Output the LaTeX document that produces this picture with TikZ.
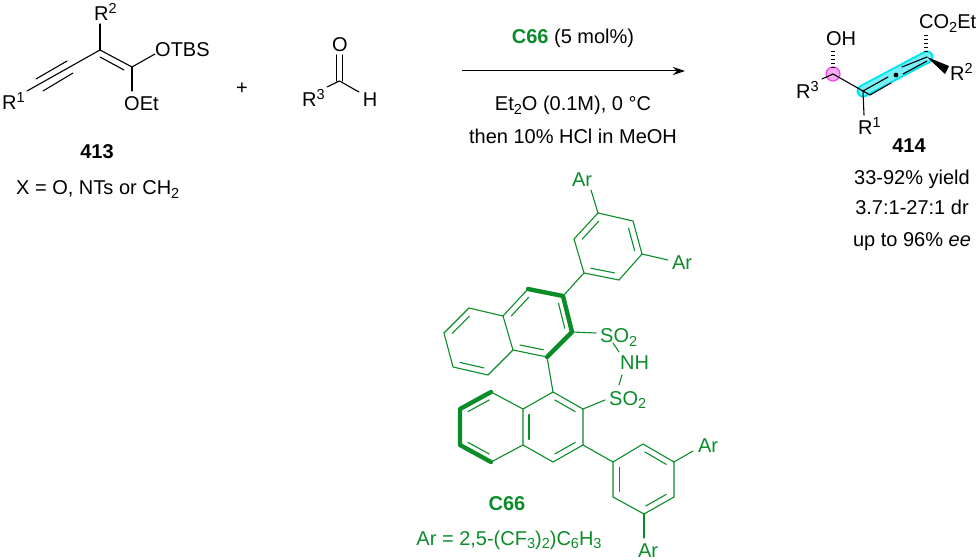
\documentclass[tikz,border=0pt]{standalone}
\usepackage{fontspec}
\setmainfont{Liberation Sans}
\usetikzlibrary{calc,arrows.meta}
\definecolor{catgreen}{RGB}{10,140,40}
\definecolor{hlcyan}{RGB}{0,228,240}
\definecolor{hlcyanb}{RGB}{120,240,245}
\definecolor{hlmag}{RGB}{238,70,232}
\definecolor{hlmagb}{RGB}{248,170,245}
\newcommand{\atoms}[1]{\foreach \n/\x/\y in {#1}{\coordinate (\n) at (\x,\y);}}
\newcommand{\innerb}[3]{\draw[shorten >=2bp,shorten <=2bp] ($(#1)!.2!(#3)$) -- ($(#2)!.2!(#3)$);}
\newcommand{\sps}[1]{\raisebox{7.5bp}{\fontsize{14.5bp}{15bp}\selectfont #1}}
\newcommand{\sbs}[1]{\raisebox{-3.5bp}{\fontsize{14.5bp}{15bp}\selectfont #1}}
\tikzset{
  lbl/.style={inner sep=0pt,font=\fontsize{20bp}{24bp}\selectfont},
  blbl/.style={inner sep=0pt,font=\fontsize{20bp}{24bp}\selectfont\bfseries},
  bond/.style={line width=1.1bp,line cap=round},
  boldbond/.style={line width=4.4bp,line join=round,line cap=round},
  cat/.style={catgreen,text=catgreen},
  hash/.style={line width=3.2bp,dash pattern=on 1.2bp off 2.8bp}
}
\begin{document}
\begin{tikzpicture}[x=1bp,y=-1bp]
\useasboundingbox (0,0) rectangle (980,560);
% ---- 413
\atoms{a1/27/91, a2/100/50, a3/132/67, a4/100/24, a5/155/54, a6/132/91}
\node[lbl,anchor=base west] (r1a) at (2,110) {R\sps{1}};
\node[lbl,anchor=base west] (r2a) at (94,21) {R\sps{2}};
\node[lbl,anchor=base west] (otbs) at (155,57) {OTBS};
\node[lbl,anchor=base west] (oeta) at (124,111) {OEt};
\node[blbl,anchor=base] (n413) at (97,159) {413};
\node[lbl,anchor=base west] (xeq) at (16,195) {X = O, NTs or CH\sbs{2}};
\draw[bond] (a1) -- (a2);
\draw[bond] (36,79) -- (67,61);
\draw[bond] (43,91) -- (73,73);
\draw[bond] (a2) -- (a3);
\draw[bond] (100,57) -- (124,70);
\draw[bond] (a2) -- (a4);
\draw[bond] (a3) -- (a5);
\draw[bond] (a3) -- (a6);
\node[lbl,anchor=center] (plus) at (242,89) {+};
% ---- aldehyde
\atoms{b1/339.5/81, b2/359/92, b3/327/87}
\node[lbl,anchor=base] (oald) at (340,52) {O};
\node[lbl,anchor=base] (hald) at (370,107) {H};
\node[lbl,anchor=base west] (r3a) at (302,107) {R\sps{3}};
\draw[bond] (336.7,55) -- (336.7,81);
\draw[bond] (342.7,55) -- (342.7,81);
\draw[bond] (b3) -- (b1) -- (b2);
% ---- arrow
\coordinate (arrL) at (462,71);
\coordinate (arrR) at (685,71);
\draw[line width=1bp,-{Stealth[length=12bp,width=8bp]}] (arrL) -- (arrR);
\node[lbl,anchor=base] (cond1) at (573,44) {\textcolor{catgreen}{\bfseries C66} (5 mol\%)};
\node[lbl,anchor=base] (cond2) at (573,111) {Et\sbs{2}O (0.1M), 0 °C};
\node[lbl,anchor=base] (cond3) at (573,144) {then 10\% HCl in MeOH};
% ---- 414
\atoms{s1/833/74, s2/863/91, s3/927/57, s4/822/79, s5/864/115, s6/947/70, s7/833/68, s8/833/50, s9/926/52, s10/926/33}
\fill[hlmagb,draw=hlmag,line width=1.2bp] (s1) circle (7bp);
\draw[hlcyan,line width=13bp,line cap=round] (s2) -- (s3);
\draw[hlcyanb,line width=9bp,line cap=round] (s2) -- (s3);
\node[lbl,anchor=base] (oh) at (841,46) {OH};
\node[lbl,anchor=base west] (r3b) at (796,99) {R\sps{3}};
\node[lbl,anchor=base west] (r1b) at (858,135) {R\sps{1}};
\node[lbl,anchor=base west] (co2et) at (919,29) {CO\sbs{2}Et};
\node[lbl,anchor=base west] (r2b) at (950,81) {R\sps{2}};
\node[blbl,anchor=base] (n414) at (909,153) {414};
\node[lbl,anchor=base] (y1) at (912,185) {33-92\% yield};
\node[lbl,anchor=base] (y2) at (912,215) {3.7:1-27:1 dr};
\node[lbl,anchor=base] (y3) at (912,247) {up to 96\% \textit{ee}};
\draw[bond] (s4) -- (s1) -- (s2);
\draw[bond] (s2) -- (s5);
\draw[bond] (s2) -- (888,77);
\draw[bond] (870,95) -- (891,83);
\draw[bond] (902,67) -- (s3);
\draw[bond] (903,74) -- (927,61);
\draw[bond] (s2) -- (870,95);
\fill (896,75) circle (2.4bp);
\fill (s3) -- ($(s6)+(2,-4)$) -- ($(s6)+(-2,4)$) -- cycle;
\draw[hash] (s7) -- (s8);
\draw[hash] (s9) -- (s10);
% ---- catalyst
\begin{scope}[cat]
\atoms{d1/598/213, d2/633/221, d3/642/254, d4/619/280, d5/584/273, d6/574/239, dc/608/247, d7/591/190, d8/668/260, e1/563/296, e2/572/332, e3/547/357, e4/513/350, e5/503/316, e6/528/289, ec/538/323, f1/469/308, f2/444/333, f3/453/367, f4/488/375, fc/478/342, g1/553/392, g2/583/409, g3/583/445, g4/553/462, g5/523/445, g6/523/409, gc/553/427, h1/491/392, h2/460/409, h3/460/445, h4/491/462, hc/491/427, i1/613/462, i2/643/444, i3/674/462, i4/674/497, i5/644/514, i6/613/497, ic/644/479, i7/693/451, i8/644/538, j1/596/333, j2/605/400, j3/613/343, j4/619/352, j5/619/385, j6/622/375}
\node[lbl,anchor=base] (ar1) at (582,187) {Ar};
\node[lbl,anchor=base] (ar2) at (682,270) {Ar};
\node[lbl,anchor=base] (ar3) at (708,452) {Ar};
\node[lbl,anchor=base] (ar4) at (648,557) {Ar};
\node[lbl,anchor=base west] (so1) at (600,343) {SO\sbs{2}};
\node[lbl,anchor=base west] (nh) at (620,370) {NH};
\node[lbl,anchor=base west] (so2) at (609,405) {SO\sbs{2}};
\node[blbl,anchor=base] (c66) at (507,510) {C66};
\node[lbl,anchor=base] (areq) at (509,545) {Ar = 2,5-(CF\sbs{3})\sbs{2})C\sbs{6}H\sbs{3}};
\begin{scope}[bond]
\draw (d1) -- (d2) -- (d3) -- (d4) -- (d5) -- (d6) -- cycle;
\innerb{d6}{d1}{dc} \innerb{d2}{d3}{dc} \innerb{d4}{d5}{dc}
\draw (d7) -- (d1); \draw (d3) -- (d8); \draw (d5) -- (e1);
\draw (e3) -- (e4) -- (e5) -- (e6);
\innerb{e1}{e2}{ec} \innerb{e6}{e5}{ec} \innerb{e3}{e4}{ec}
\draw (e5) -- (f1) -- (f2) -- (f3) -- (f4) -- (e4);
\innerb{f1}{f2}{fc} \innerb{f3}{f4}{fc}
\draw (e3) -- (g1);
\draw (g1) -- (g2) -- (g3) -- (g4) -- (g5) -- (g6) -- cycle;
\innerb{g1}{g2}{gc} \innerb{g3}{g4}{gc} \innerb{g5}{g6}{gc}
\draw (g6) -- (h1); \draw (h4) -- (g5);
\innerb{h1}{h2}{hc} \innerb{h3}{h4}{hc}
\draw (g3) -- (i1);
\draw (i1) -- (i2) -- (i3) -- (i4) -- (i5) -- (i6) -- cycle;
\innerb{i2}{i3}{ic} \innerb{i4}{i5}{ic} \innerb{i6}{i1}{ic}
\draw (i3) -- (i7); \draw (i5) -- (i8);
\draw (e2) -- (j1); \draw (g2) -- (j2);
\draw (j3) -- (j4); \draw (j5) -- (j6);
\end{scope}
\draw[boldbond] (e6) -- (e1) -- (e2) -- (e3);
\draw[boldbond] (h1) -- (h2) -- (h3) -- (h4);
\end{scope}
\end{tikzpicture}
\end{document}
